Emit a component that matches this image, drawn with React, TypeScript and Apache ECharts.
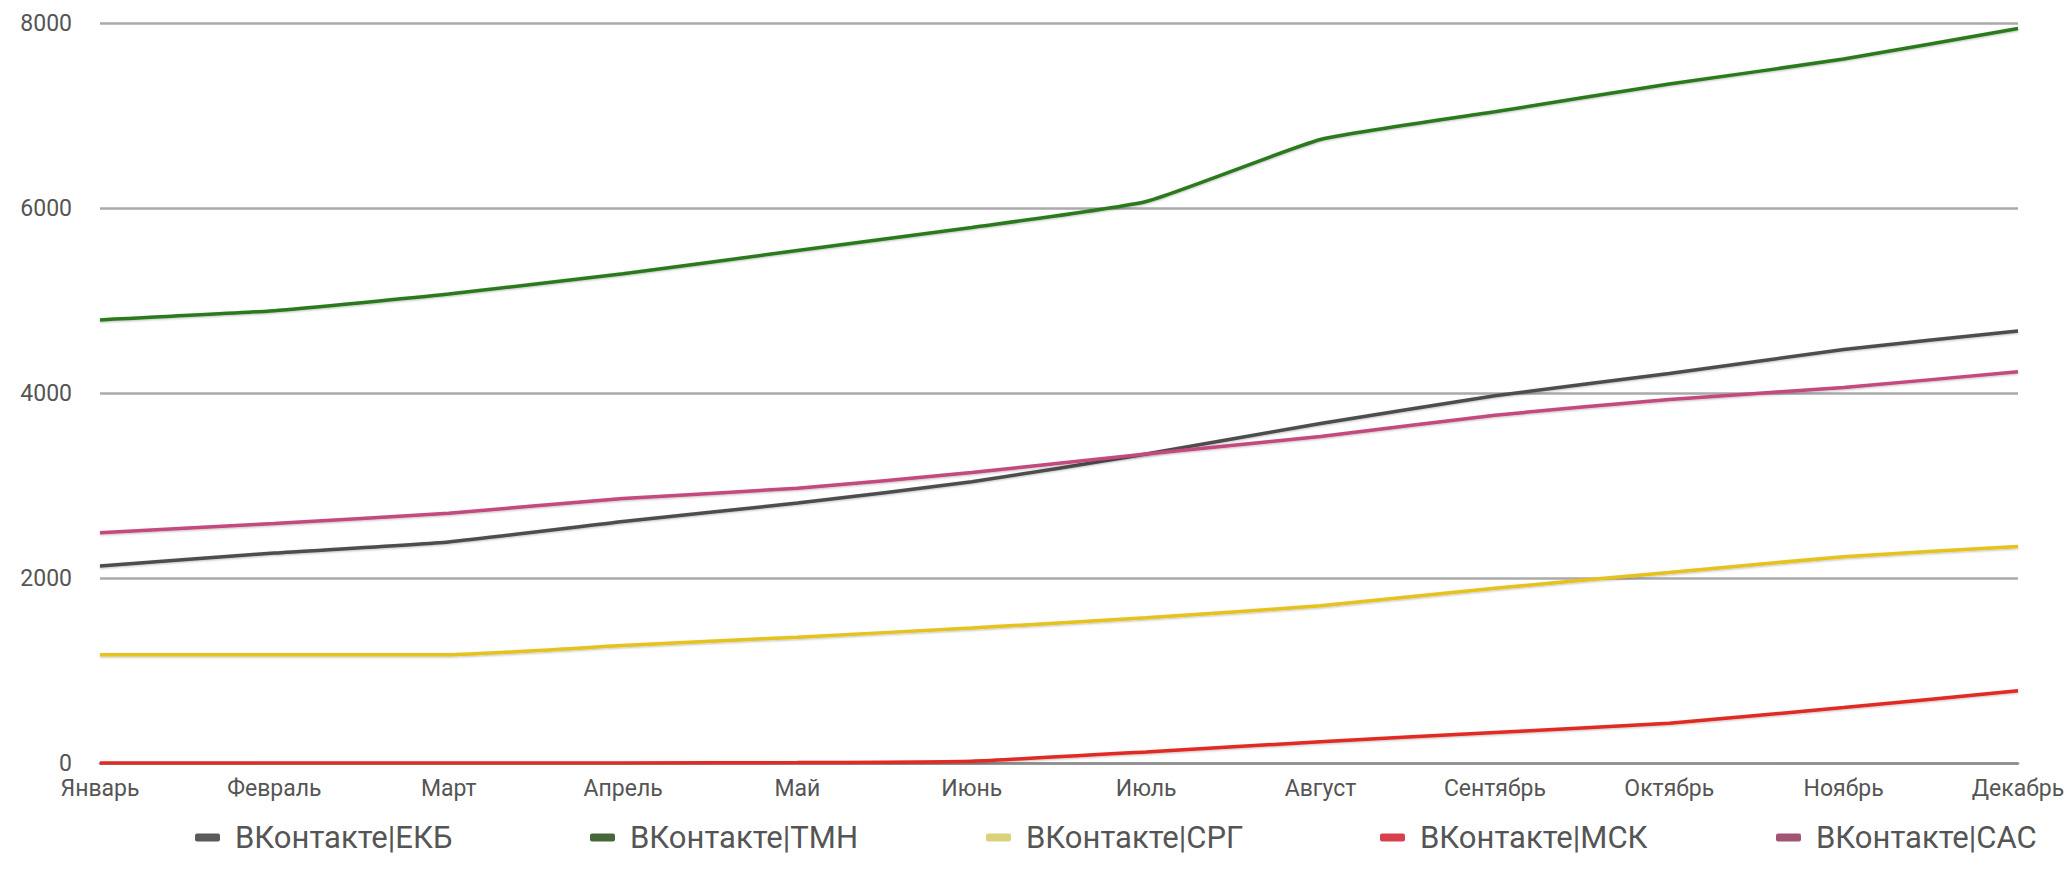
import React, { useEffect, useRef } from "react";
import * as echarts from "echarts";

const months = ["Январь", "Февраль", "Март", "Апрель", "Май", "Июнь", "Июль", "Август", "Сентябрь", "Октябрь", "Ноябрь", "Декабрь"];
const seriesNames = ["ВКонтакте|ЕКБ", "ВКонтакте|ТМН", "ВКонтакте|СРГ", "ВКонтакте|МСК", "ВКонтакте|САС"];
const ekb = [2130, 2270, 2390, 2610, 2810, 3040, 3340, 3670, 3970, 4210, 4470, 4670];
const tmn = [4790, 4890, 5070, 5290, 5540, 5790, 6070, 6740, 7040, 7340, 7610, 7940];
const srg = [1170, 1170, 1170, 1270, 1360, 1460, 1570, 1700, 1890, 2060, 2230, 2340];
const msk = [0, 0, 0, 0, 5, 20, 120, 230, 330, 430, 600, 780];
const sas = [2490, 2590, 2700, 2860, 2970, 3140, 3340, 3530, 3760, 3930, 4060, 4230];
const yTicks = [0, 2000, 4000, 6000, 8000];

const lineColors = ["#4d4d4d", "#2b7a1f", "#e6c21e", "#e12a22", "#c4487e"];
const legendColors = ["#5a5a5a", "#46673a", "#d9d27a", "#d8404e", "#a25475"];
const legendLefts = [190, 585, 981, 1375, 1771];

export default function App() {
  const ref = useRef<HTMLDivElement>(null);
  useEffect(() => {
    document.body.style.margin = "0";
    const chart = echarts.init(ref.current!, undefined, { renderer: "svg" });
    const data = [ekb, tmn, srg, msk, sas];
    const font = "Roboto, 'Noto Sans', sans-serif";
    chart.setOption({
      animation: false,
      backgroundColor: "#ffffff",
      grid: { left: 100, right: 54, top: 23, bottom: 130, containLabel: false, outerBoundsMode: "none" },
      legend: seriesNames.map((n, i) => ({
        data: [{ name: n, itemStyle: { color: legendColors[i] } }],
        left: legendLefts[i],
        top: 817,
        icon: "roundRect",
        itemWidth: 25,
        itemHeight: 8,
        selectedMode: false,
        textStyle: { fontSize: 31, color: "#555555", fontFamily: font, padding: [0, 0, 0, 10] },
      })),
      xAxis: {
        type: "category",
        data: months,
        boundaryGap: false,
        axisLine: { show: true, lineStyle: { color: "#8c8c8c", width: 2.5 } },
        axisTick: { show: false },
        axisLabel: { fontSize: 23, color: "#555555", fontFamily: font, margin: 14, interval: 0 },
        splitLine: { show: false },
      },
      yAxis: {
        type: "value",
        min: 0,
        max: 8000,
        interval: 2000,
        axisLine: { show: false },
        axisTick: { show: false },
        axisLabel: {
          fontSize: 23,
          color: "#555555",
          fontFamily: font,
          margin: 28,
          formatter: (v: number) => (yTicks.includes(v) ? String(v) : ""),
        },
        splitLine: { show: true, lineStyle: { color: "#aaaaaa", width: 2.5 } },
      },
      series: seriesNames.map((n, i) => ({
        name: n,
        type: "line",
        data: data[i],
        smooth: 0.15,
        symbol: "none",
        z: 3,
        itemStyle: { color: legendColors[i] },
        lineStyle: {
          color: lineColors[i],
          width: 3.5,
          shadowColor: "rgba(0,0,0,0.25)",
          shadowBlur: 2,
          shadowOffsetY: 1,
        },
      })),
    });
    return () => chart.dispose();
  }, []);
  return <div ref={ref} style={{ width: 2072, height: 893 }} />;
}
